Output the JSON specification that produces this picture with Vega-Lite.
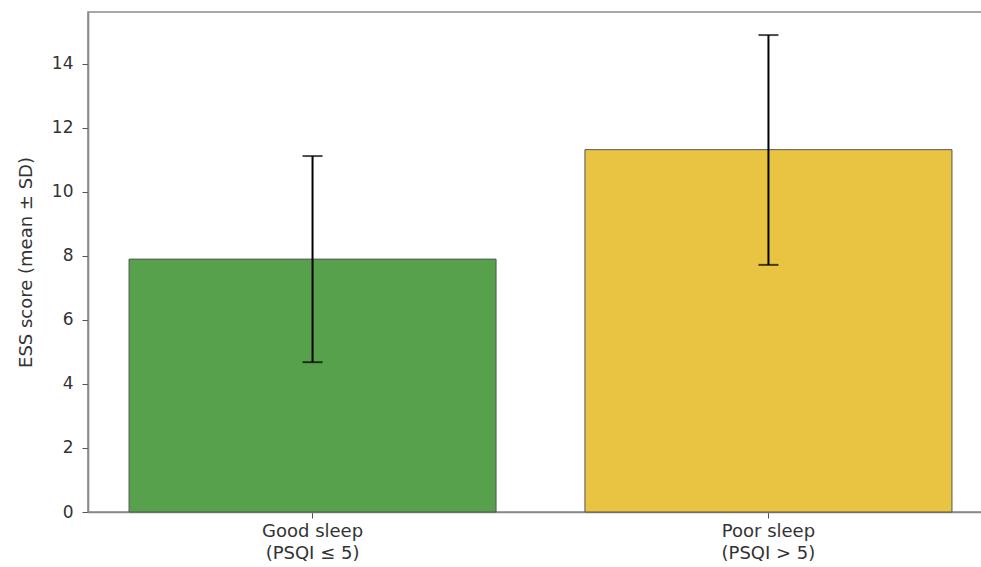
{
  "$schema": "https://vega.github.io/schema/vega-lite/v6.json",
  "autosize": "none",
  "width": 905,
  "height": 500,
  "padding": {"left": 88, "top": 12, "right": 0, "bottom": 55},
  "background": "white",
  "config": {
    "font": "DejaVu Sans",
    "view": {"stroke": "#8a8a8a", "strokeWidth": 1.6}
  },
  "data": {
    "values": [
      {"group": "Good sleep|(PSQI ≤ 5)", "mean": 7.9, "lo": 4.68, "hi": 11.12, "color": "Good"},
      {"group": "Poor sleep|(PSQI > 5)", "mean": 11.32, "lo": 7.72, "hi": 14.9, "color": "Poor"}
    ]
  },
  "encoding": {
    "x": {
      "field": "group",
      "type": "nominal",
      "sort": null,
      "scale": {"paddingInner": 0.195, "paddingOuter": 0.09},
      "axis": {
        "title": null,
        "labelAngle": 0,
        "labelExpr": "split(datum.label, '|')",
        "labelFontSize": 18,
        "labelLineHeight": 22,
        "labelColor": "#333333",
        "labelPadding": 4,
        "tickSize": 6,
        "tickColor": "#555555",
        "domainColor": "#8a8a8a",
        "domainWidth": 1.6
      }
    }
  },
  "layer": [
    {
      "mark": {"type": "bar", "stroke": "#555555", "strokeWidth": 1},
      "encoding": {
        "y": {
          "field": "mean",
          "type": "quantitative",
          "scale": {"domain": [0, 15.62], "nice": false},
          "axis": {
            "title": "ESS score (mean ± SD)",
            "titleFontSize": 18,
            "titleFontWeight": "normal",
            "titleColor": "#333333",
            "titlePadding": 16,
            "values": [0, 2, 4, 6, 8, 10, 12, 14],
            "labelFontSize": 17,
            "labelColor": "#333333",
            "labelPadding": 9,
            "tickSize": 6,
            "tickColor": "#555555",
            "grid": false,
            "domainColor": "#8a8a8a",
            "domainWidth": 1.6
          }
        },
        "color": {
          "field": "color",
          "type": "nominal",
          "scale": {"domain": ["Good", "Poor"], "range": ["#57a14d", "#e9c443"]},
          "legend": null
        }
      }
    },
    {
      "mark": {"type": "rule", "color": "black", "strokeWidth": 2},
      "encoding": {
        "y": {"field": "lo", "type": "quantitative"},
        "y2": {"field": "hi"}
      }
    },
    {
      "mark": {"type": "tick", "color": "black", "thickness": 2, "size": 20},
      "encoding": {"y": {"field": "lo", "type": "quantitative"}}
    },
    {
      "mark": {"type": "tick", "color": "black", "thickness": 2, "size": 20},
      "encoding": {"y": {"field": "hi", "type": "quantitative"}}
    }
  ]
}
